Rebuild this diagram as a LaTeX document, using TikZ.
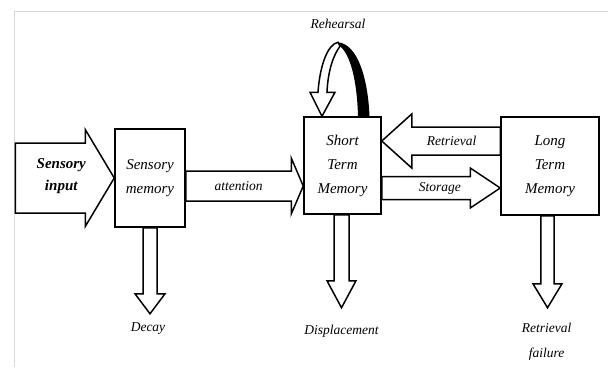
\documentclass[tikz,border=0pt]{standalone}
\usepackage{fontspec}
\setmainfont{Liberation Serif}
\usetikzlibrary{calc}

% open block arrow: start, tip, body half width, head half width, head length
\newcommand{\blockarrow}[5]{%
  \coordinate (hb) at ($(#2)!#5!(#1)$);
  \draw[fill=white] ($(#1)!#3!90:(#2)$) -- ($(hb)!#3!90:(#2)$) -- ($(hb)!#4!90:(#2)$) -- (#2)
    -- ($(hb)!#4!-90:(#2)$) -- ($(hb)!#3!-90:(#2)$) -- ($(#1)!#3!-90:(#2)$) -- cycle;
}

\begin{document}
\begin{tikzpicture}[x=1pt,y=-1pt,line width=1.5pt,
    every node/.style={font=\fontsize{13.5}{23.5}\selectfont\itshape},
    memory/.style={draw,inner sep=0pt,align=center,font=\fontsize{15}{24}\selectfont\itshape}]
        \useasboundingbox (0,0) rectangle (608,367);

        % Frame
        \draw[gray!30,line width=0.8pt] (14,367) -- (14,11) -- (608,11);

        % Stores
        \node[memory,minimum width=70pt,minimum height=98pt] (sm) at (150,178) {Sensory\\memory};
        \node[memory,minimum width=77pt,minimum height=97pt] (stm) at (342.5,165.5) {Short\\Term\\Memory};
        \node[memory,minimum width=98pt,minimum height=98pt] (ltm) at (550,166) {Long\\Term\\Memory};

        % Sensory input
        \coordinate (in1) at ($(sm.west)+(-99,0)$);
        \blockarrow{in1}{sm.west}{35pt}{48.5pt}{29pt}
        \node[font=\fontsize{15}{22}\selectfont\bfseries\itshape,align=center] (input) at ($(in1)+(46,-2)$) {Sensory\\input};

        % Attention
        \coordinate (at1) at ($(sm.east)+(0,8)$);
        \coordinate (at2) at (stm.west |- at1);
        \blockarrow{at1}{at2}{15pt}{28pt}{12pt}
        \node (attention) at ($(at1)!0.45!(at2)$) {attention};

        % Retrieval
        \coordinate (re1) at ($(ltm.west)+(0,-25)$);
        \coordinate (re2) at (stm.east |- re1);
        \blockarrow{re1}{re2}{14pt}{27pt}{30pt}
        \node (retrieval) at ($(re1)!0.41!(re2)$) {Retrieval};

        % Storage
        \coordinate (st1) at ($(stm.east)+(0,22.5)$);
        \coordinate (st2) at (ltm.west |- st1);
        \blockarrow{st1}{st2}{11.5pt}{20pt}{30pt}
        \node (storage) at ($(st1)!0.49!(st2)$) {Storage};

        % Forgetting
        \coordinate (de2) at ($(sm.south)+(0,86)$);
        \blockarrow{sm.south}{de2}{7pt}{15pt}{20pt}
        \node (decay) at ($(de2)+(-2,15)$) {Decay};

        \coordinate (di1) at ($(stm.south)+(-1,0)$);
        \coordinate (di2) at ($(di1)+(0,93)$);
        \blockarrow{di1}{di2}{7.5pt}{14.5pt}{27pt}
        \node (displacement) at ($(di2)+(0,23)$) {Displacement};

        \coordinate (fa1) at ($(ltm.south)+(-2.5,0)$);
        \coordinate (fa2) at ($(fa1)+(0,92)$);
        \blockarrow{fa1}{fa2}{6.7pt}{14.5pt}{24pt}
        \node[font=\fontsize{13.5}{25}\selectfont\itshape,align=center] (failure) at ($(fa2)+(-1,33.5)$) {Retrieval\\failure};

        % Rehearsal loop
        \begin{scope}[shift={(stm.north)}]
        \draw[fill=white] (-15.5,-24) .. controls (-14.5,-47) and (-8.5,-62) .. (-2.5,-70)
            -- (-4.5,-74) .. controls (-14.5,-72) and (-22.5,-52) .. (-24.5,-24)
            -- (-32.5,-24) -- (-20.5,0) -- (-7.5,-24) -- cycle;
        \fill (-4.5,-74) .. controls (15.5,-72) and (25.5,-37) .. (27,0)
            -- (15.5,0) .. controls (14.5,-37) and (7.5,-62) .. (-2.5,-70) -- cycle;
        \node (rehearsal) at (-4.5,-92) {Rehearsal};
        \end{scope}
    \end{tikzpicture}
\end{document}
